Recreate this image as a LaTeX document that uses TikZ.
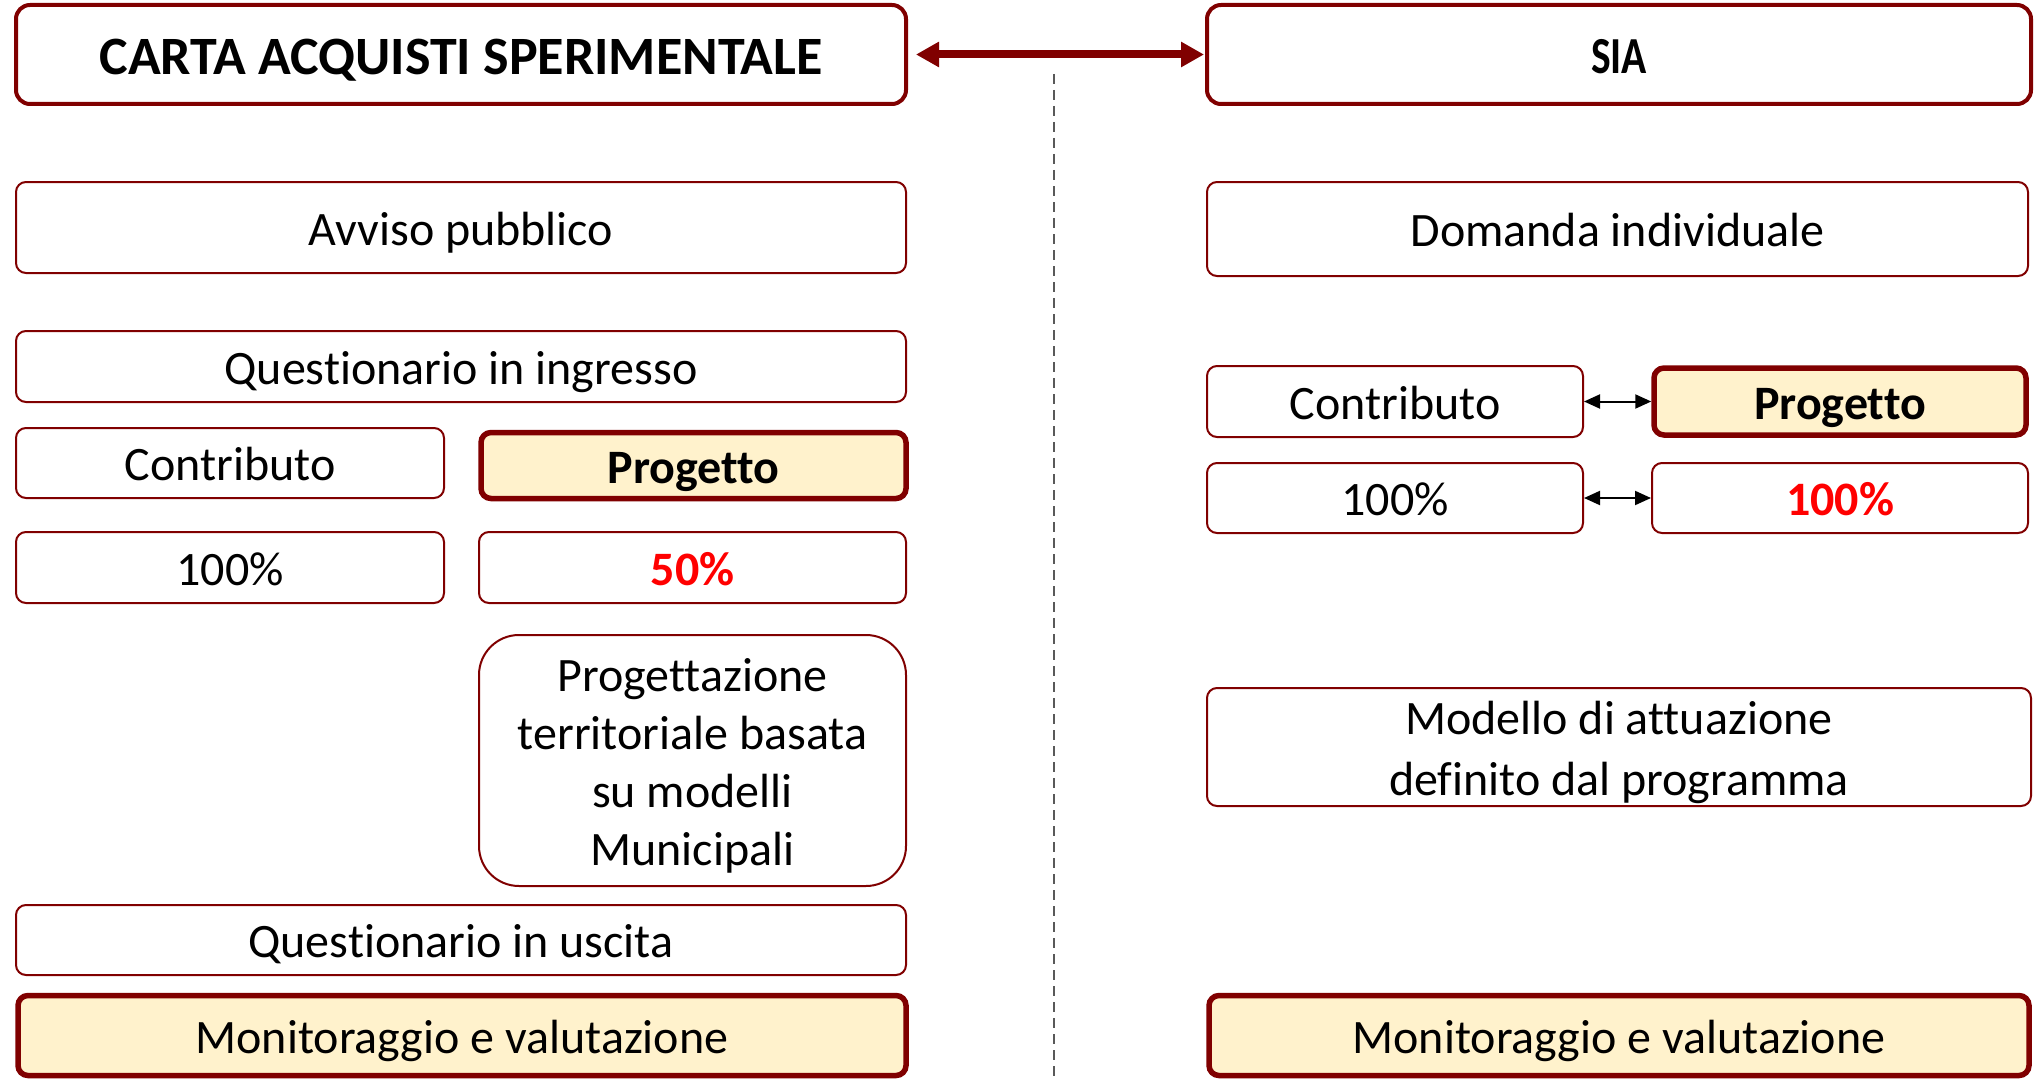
\documentclass[tikz,border=0pt]{standalone}
\usepackage{graphicx}
\usepackage{fontspec}
\setmainfont{Carlito}[Ligatures={NoCommon,NoContextual}]
\usetikzlibrary{arrows.meta}
\definecolor{dred}{RGB}{128,0,0}
\definecolor{pale}{RGB}{255,242,204}
\definecolor{hired}{RGB}{255,0,0}
\begin{document}
\begin{tikzpicture}[x=0.5pt,y=-0.5pt,
  box/.style={draw=dred, line width=1pt, rounded corners=5pt, fill=white,
    inner sep=0pt, align=center, font=\fontsize{24}{29}\selectfont},
  one/.style={text height=21.6pt, text depth=3.8pt},
  titlebox/.style={box, line width=2pt, rounded corners=7pt},
  hibox/.style={box, line width=2.75pt, fill=pale},
  sz/.style 2 args={minimum width=#1*0.5pt, minimum height=#2*0.5pt},
  bigarrow/.style={dred, line width=4pt, {Triangle[length=11.5pt,width=12pt]}-{Triangle[length=11.5pt,width=12pt]}},
  smallarrow/.style={black, line width=1pt, {Triangle[length=8pt,width=7pt]}-{Triangle[length=8pt,width=7pt]}}]
\useasboundingbox (0,0) rectangle (2035,1081);

% divider
\coordinate (dtop) at (1054,74);
\coordinate (dbot) at (1054,1081);
\draw[gray!70!black, line width=0.6pt, dash pattern=on 5pt off 3pt] (dtop) -- (dbot);

% left column
\node[titlebox, sz={890}{99}, font=\fontsize{27}{32}\selectfont\bfseries, text height=24.3pt, text depth=4.3pt] (titleL) at (461,54.5) {CARTA ACQUISTI SPERIMENTALE};
\node[box, one, sz={890}{91}] (avviso) at (461,227.5) {Avviso pubblico};
\node[box, one, sz={890}{71}] (qing) at (461,366.5) {Questionario in ingresso};
\node[box, one, sz={428}{70}] (contribL) at (230,463) {Contributo};
\node[hibox, one, sz={425}{66}] (progL) at (693.5,465.5) {\bfseries Progetto};
\node[box, one, sz={428}{71}] (centL) at (230,567.5) {100\%};
\node[box, one, sz={427}{71}] (cinq) at (692.5,567.5) {\bfseries\color{hired}50\%};
\node[box, rounded corners=20pt, sz={427}{251}] (progettaz) at (692.5,760.5) {\rule{0pt}{22pt}Progettazione\\territoriale basata\\su modelli\\Municipali};
\node[box, one, sz={890}{70}] (qusc) at (461,940) {Questionario in uscita};
\node[hibox, one, sz={888}{80}] (monL) at (462,1035.5) {Monitoraggio e valutazione};

% right column
\node[titlebox, sz={824}{99}, font=\fontsize{26}{31}\selectfont\bfseries, text height=23.4pt, text depth=4.2pt] (titleR) at (1619,54.5) {\scalebox{0.8}[1]{SIA}};
\node[box, one, sz={821}{94}] (domanda) at (1617.5,229) {Domanda individuale};
\node[box, one, sz={376}{71}] (contribR) at (1395,401.5) {Contributo};
\node[hibox, one, sz={372}{67}] (progR) at (1840,401.5) {\bfseries Progetto};
\node[box, one, sz={376}{70}] (centR) at (1395,498) {100\%};
\node[box, one, sz={376}{70}] (centRR) at (1840,498) {\bfseries\color{hired}100\%};
\node[box, sz={824}{118}, font=\fontsize{24}{30.5}\selectfont] (modello) at (1619,747) {\rule{0pt}{22pt}Modello di attuazione\\definito dal programma};
\node[hibox, one, sz={820}{80}] (monR) at (1619,1035.5) {Monitoraggio e valutazione};

% connectors
\draw[bigarrow, shorten <=4pt, shorten >=0.5pt] (titleL.east) -- (titleR.west);
\draw[smallarrow] (contribR.east) -- (progR.west);
\draw[smallarrow] (centR.east) -- (centRR.west);
\end{tikzpicture}
\end{document}
